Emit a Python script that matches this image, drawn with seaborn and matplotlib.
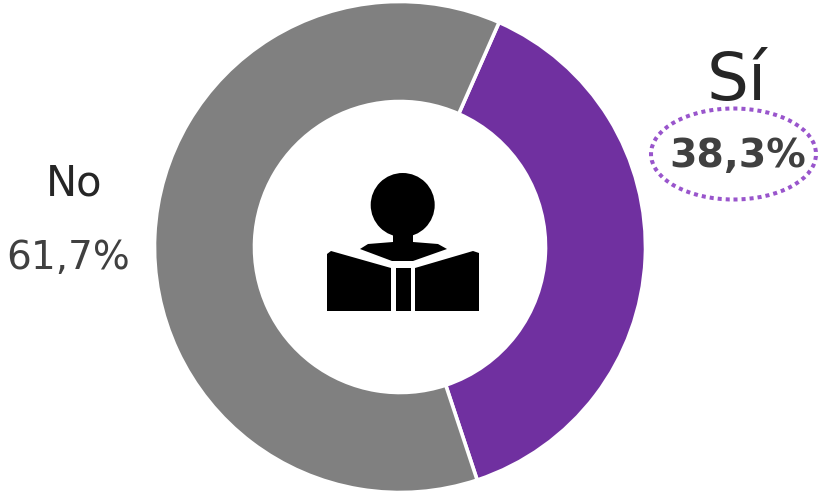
import matplotlib
matplotlib.use('Agg')
import matplotlib.pyplot as plt
from matplotlib.patches import Circle, Ellipse, Polygon, Rectangle
import seaborn as sns

categories = ['Sí', 'No']
values = [38.3, 61.7]
value_labels = ['38,3%', '61,7%']
colors = ['#7030A0', '#808080']

W, H = 818, 493

sns.set_theme(style='white')
plt.rcParams['font.family'] = ['DejaVu Sans']


def py(y):
    # y de pixel (desde arriba) a y del eje
    return H - y


fig = plt.figure(figsize=(W / 100, H / 100), dpi=100)
ax = fig.add_axes([0, 0, 1, 1])

ax.pie(values, colors=colors, startangle=90 - 23.8, counterclock=False,
       center=(400, py(247)), radius=245.5, frame=True,
       wedgeprops=dict(width=100, edgecolor='white', linewidth=2.6))
ax.set_xlim(0, W)
ax.set_ylim(0, H)
ax.set_aspect('equal')
ax.axis('off')

# icono: persona leyendo
ax.add_patch(Circle((402.7, py(205)), 32, fc='black', ec='none'))
icon_parts = [
    [(393, 232), (413, 232), (413, 242), (438, 244), (447, 249), (413, 261),
     (392, 261), (360, 249), (368, 244), (393, 242)],
    [(327, 254), (331, 251), (391, 268), (391, 311), (327, 311)],
    [(415, 268), (473, 251), (479, 253), (479, 311), (415, 311)],
]
for part in icon_parts:
    ax.add_patch(Polygon([(x, py(y)) for x, y in part], fc='black', ec='none'))
ax.add_patch(Rectangle((395.5, py(311)), 15, 43, fc='black', ec='none'))

# textos
ax.text(737, py(100), categories[0], fontsize=47.5, color='#262626',
        ha='center', va='baseline')
ax.text(738, py(167), value_labels[0], fontsize=28.4, fontweight='bold',
        color='#404040', ha='center', va='baseline')
ax.text(74, py(196), categories[1], fontsize=30, color='#262626',
        ha='center', va='baseline')
ax.text(68, py(269), value_labels[1], fontsize=28, color='#404040',
        ha='center', va='baseline')

ax.add_patch(Ellipse((733.5, py(154)), 165, 91, fc='none', ec='#9955CC',
                     lw=2.9, ls=(0, (1, 1))))

fig.savefig('out.png', dpi=100)
